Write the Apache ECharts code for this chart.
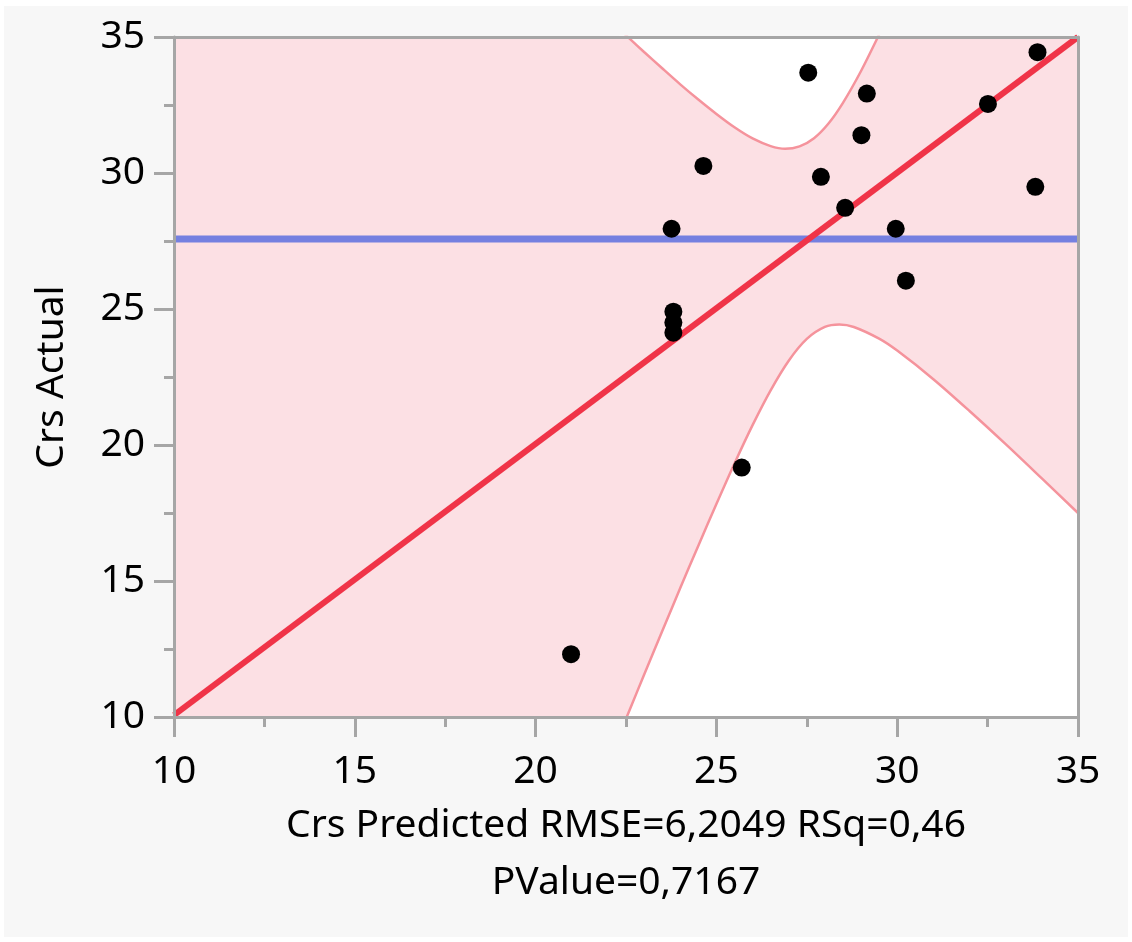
<!DOCTYPE html>
<html>
<head>
<meta charset="utf-8">
<script src="https://cdn.jsdelivr.net/npm/echarts@6/dist/echarts.min.js"></script>
<style>
  html, body { margin: 0; padding: 0; background: #ffffff; }
  #chart { position: absolute; left: 4px; top: 6px; width: 1124px; height: 931px; background: #f7f7f7; }
</style>
</head>
<body>
<div id="chart"></div>
<script>
// Observations: predicted vs actual Crs
const predicted = [20.98, 25.70, 23.81, 23.81, 23.81, 23.76, 24.64, 27.54, 27.89, 28.56,
                   29.01, 29.16, 29.96, 30.24, 32.51, 33.82, 33.88];
const actual    = [12.31, 19.17, 24.13, 24.50, 24.90, 27.95, 30.26, 33.69, 29.86, 28.72,
                   31.39, 32.92, 27.95, 26.04, 32.54, 29.49, 34.44];

// Fit line (actual by predicted) and mean of actual
const fitX = [10, 35];
const fitY = [10.07, 35];
const meanActual = 27.57;

// Upper confidence curve
const upperX = [22.3, 22.6, 23, 23.5, 24, 24.5, 25, 25.5, 26, 26.5, 26.9, 27.3, 27.7, 28.1, 28.5, 29, 29.5, 29.8];
const upperY = [35.31, 34.94, 34.45, 33.85, 33.26, 32.70, 32.17, 31.68, 31.27, 30.99, 30.89, 30.98, 31.28, 31.82, 32.58, 33.75, 35.09, 35.94];

// Lower confidence curve
const lowerX = [22.3, 22.6, 23, 23.5, 24, 24.5, 25, 25.5, 26, 26.5, 27, 27.5, 28, 28.4, 28.8, 29.5, 30, 31, 32, 33, 34, 35];
const lowerY = [9.29, 10.26, 11.55, 13.15, 14.74, 16.30, 17.83, 19.32, 20.73, 22.01, 23.10, 23.90, 24.34, 24.43, 24.34, 23.91, 23.47, 22.42, 21.25, 20.03, 18.77, 17.50];

// Axis ticks
const axisTicks = [10, 15, 20, 25, 30, 35];

const xTitle = 'Crs Predicted RMSE=6,2049 RSq=0,46';
const xSubtitle = 'PValue=0,7167';
const yTitle = 'Crs Actual';

const FONT = 'Noto Sans';
const FONT_SIZE = 39;
const AXIS_GRAY = '#a6a6a6';
const pairs = (xs, ys) => xs.map((x, i) => [x, ys[i]]);

const axisMin = axisTicks[0];
const axisMax = axisTicks[axisTicks.length - 1];
const axisStep = axisTicks[1] - axisTicks[0];

function mainAxis(extra) {
  return Object.assign({
    type: 'value',
    min: axisMin,
    max: axisMax,
    interval: axisStep,
    z: 10,
    axisLine: { show: true, onZero: false, lineStyle: { color: AXIS_GRAY, width: 3 } },
    axisTick: { show: true, length: 20, lineStyle: { color: AXIS_GRAY, width: 3 } },
    minorTick: { show: true, splitNumber: 2, length: 10, lineStyle: { color: AXIS_GRAY, width: 3 } },
    splitLine: { show: false },
    minorSplitLine: { show: false },
    nameTextStyle: { fontSize: FONT_SIZE, color: '#000', fontFamily: FONT }
  }, extra);
}

function frameAxis(extra) {
  return Object.assign({
    type: 'value',
    min: axisMin,
    max: axisMax,
    z: 10,
    axisLine: { show: true, onZero: false, lineStyle: { color: AXIS_GRAY, width: 3 } },
    axisTick: { show: false },
    axisLabel: { show: false },
    splitLine: { show: false }
  }, extra);
}

const chart = echarts.init(document.getElementById('chart'), null, { renderer: 'canvas' });

chart.setOption({
  animation: false,
  backgroundColor: '#f7f7f7',
  grid: {
    left: 170, top: 31, width: 904, height: 680,
    show: true, backgroundColor: '#fce0e4', borderWidth: 0
  },
  xAxis: [
    mainAxis({
      position: 'bottom',
      axisLabel: { fontSize: FONT_SIZE, color: '#000', fontFamily: FONT, margin: 35, showMinLabel: true, showMaxLabel: true },
      name: xTitle + '\n' + xSubtitle,
      nameLocation: 'middle',
      nameGap: 80,
      nameTextStyle: { fontSize: FONT_SIZE, color: '#000', fontFamily: FONT, lineHeight: 57 }
    }),
    frameAxis({ position: 'top' })
  ],
  yAxis: [
    mainAxis({
      position: 'left',
      axisLabel: { fontSize: FONT_SIZE, color: '#000', fontFamily: FONT, margin: 29, showMinLabel: true, showMaxLabel: true },
      name: yTitle,
      nameLocation: 'middle',
      nameGap: 103
    }),
    frameAxis({ position: 'right' })
  ],
  series: [
    {
      name: 'upper',
      type: 'line',
      data: pairs(upperX, upperY),
      smooth: 0.3,
      showSymbol: false,
      clip: true,
      lineStyle: { color: '#f5939c', width: 2.5 },
      areaStyle: { color: '#ffffff', opacity: 1, origin: 'end' },
      z: 2
    },
    {
      name: 'lower',
      type: 'line',
      data: pairs(lowerX, lowerY),
      smooth: 0.3,
      showSymbol: false,
      clip: true,
      lineStyle: { color: '#f5939c', width: 2.5 },
      areaStyle: { color: '#ffffff', opacity: 1, origin: 'start' },
      z: 2
    },
    {
      name: 'mean',
      type: 'line',
      data: [[axisMin, meanActual], [axisMax, meanActual]],
      showSymbol: false,
      lineStyle: { color: '#7580e0', width: 7 },
      z: 3
    },
    {
      name: 'fit',
      type: 'line',
      data: pairs(fitX, fitY),
      showSymbol: false,
      clip: true,
      lineStyle: { color: '#f03448', width: 6 },
      z: 4
    },
    {
      name: 'points',
      type: 'scatter',
      data: pairs(predicted, actual),
      symbol: 'circle',
      symbolSize: 18,
      itemStyle: { color: '#000000', opacity: 1 },
      z: 5
    }
  ]
});
</script>
</body>
</html>
